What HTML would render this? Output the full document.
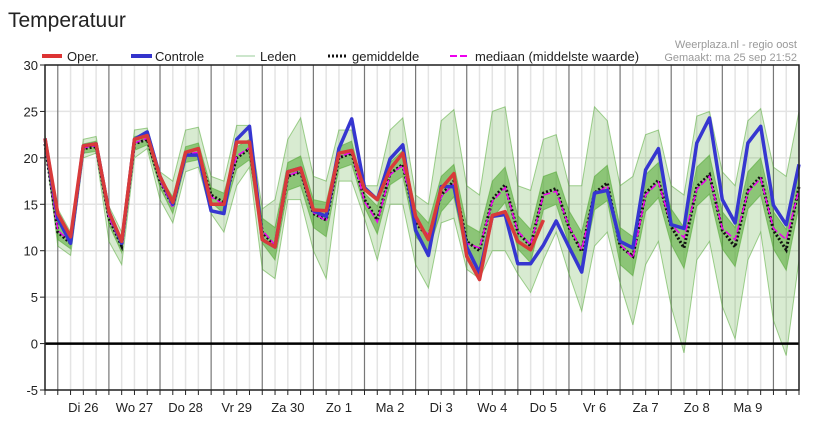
<!DOCTYPE html>
<html><head><meta charset="utf-8"><style>
body{margin:0;background:#fff;font-family:"Liberation Sans",sans-serif;}
svg text{font-family:"Liberation Sans",sans-serif;}
</style></head><body>
<svg id="chart" width="828" height="429" xmlns="http://www.w3.org/2000/svg">
<text x="8" y="27" font-size="21" fill="#222">Temperatuur</text>
<g id="legend">
 <g><line x1="42" y1="56" x2="62" y2="56" stroke="#d33" stroke-width="4"/><text x="67" y="61" font-size="13" fill="#222">Oper.</text></g>
 <g><line x1="131" y1="56" x2="152" y2="56" stroke="#33c" stroke-width="4"/><text x="155" y="61" font-size="13" fill="#222">Controle</text></g>
 <g><line x1="236" y1="56" x2="255" y2="56" stroke="#9c9" stroke-width="1"/><text x="260" y="61" font-size="13" fill="#222">Leden</text></g>
 <g><line x1="328" y1="56" x2="346" y2="56" stroke="#111" stroke-width="3" stroke-dasharray="2,2"/><text x="352" y="61" font-size="13" fill="#222">gemiddelde</text></g>
 <g><line x1="450" y1="56" x2="470" y2="56" stroke="#e0e" stroke-width="2" stroke-dasharray="7,3"/><text x="475" y="61" font-size="13" fill="#222">mediaan (middelste waarde)</text></g>
</g>
<text x="797" y="48" font-size="11" fill="#999" text-anchor="end">Weerplaza.nl - regio oost</text>
<text x="797" y="61" font-size="11" fill="#999" text-anchor="end">Gemaakt: ma 25 sep 21:52</text>
<g id="grid"></g>
<g id="members"></g>
<g id="series"></g>
<g id="axes"></g>
</svg>
<script>
const yTicks=[-5,0,5,10,15,20,25,30];
const dayLabels=["Di 26","Wo 27","Do 28","Vr 29","Za 30","Zo 1","Ma 2","Di 3","Wo 4","Do 5","Vr 6","Za 7","Zo 8","Ma 9"];
const oper=[22.1,14,11.5,21.3,21.5,14.2,11,22,22.4,18,15.2,20.6,21,15,15,21.7,21.7,11.2,10.4,18.5,18.9,14.4,14.3,20.5,20.8,16.6,15.5,18.8,20.5,13.7,11.2,16.7,18.3,9.4,6.9,13.8,14.2,11,10.1,13.3];
const controle=[22.1,13.5,10.8,21.3,21.5,14.2,10.8,22,22.8,18,15,20.3,20.3,14.3,14,22,23.4,11.2,10.4,18.5,18.9,14.3,13.7,21,24.2,16.8,15.5,19.9,21.4,12.2,9.5,16.9,16.9,10.4,7.6,13.7,13.9,8.6,8.6,10.6,13.2,10.4,7.7,16.2,16.5,11,10.3,18.7,21,12.8,12.4,21.6,24.3,15.5,13,21.6,23.4,14.9,12.8,19.3];
const gemiddelde=[21.5,12,10.8,21,21.2,13.5,10.5,21.5,22,17.5,14.8,20.3,20.5,16,15.2,20,21,12,10.5,18,18.5,14,13.3,20,20.5,15.5,13.3,18.3,19.3,13,11.5,16,17.5,11,10,15.5,17.1,12,10.5,16.2,16.7,12.5,9.9,16.2,17.3,10.5,9.4,16.2,17.6,12.6,10.3,16.9,18.2,12.2,10.4,16.5,18,12.2,10.1,16.9];
const mediaan=[21.6,12.2,10.9,21.1,21.3,13.6,10.6,21.6,22.1,17.6,14.6,20.4,20.6,15.8,15,20.2,21.1,12.2,10.6,18.1,18.6,14.1,13.2,20.1,20.6,15.3,13.1,18.2,19.2,13.2,11.7,15.8,17.2,10.8,10.3,15.3,16.8,12.1,10.6,16,16.4,12.6,10.1,16,17,10.7,9.2,16,17.4,12.8,11.4,16.6,18,12.4,11.2,16.3,17.8,12.4,11.2,16.6];
const ledenMax=[22.5,14.5,12,22,22.3,14.8,12,23,23.2,18.5,17.5,23,23.3,18,17.5,23.5,23.5,14.5,15.5,22,24.3,18,17.5,23,23,17,17,23,24.3,16,15,24,25.2,17,16,25,25.5,17,16.5,22,22.5,17,17,25.5,24,17,18,22.5,23,17,16,24.5,25,18.5,17,24,25.3,19,18,25];
const ledenMin=[21.5,10.5,9.5,20,20.5,11,8.5,20,21,15.5,13,18.5,19,14,12,17,19,8,7,15.5,15.5,10,7,17.5,17.5,13.5,9,15,15,8.5,6,13,13.5,8,7,10,10,7.5,5.5,9,12,7.5,3.5,10.5,12,6.5,2,8.5,11,4,-1,9,11,4,0.5,9,12,2.5,-1.3,9];
const ledenP75=[22.2,13,11.3,21.5,21.8,14,11.2,22.3,22.6,18,15.8,21.2,21.6,16.8,16.2,21.2,22,13.5,12.5,19.5,20.2,15.5,15.2,21.2,21.8,16.2,14.8,19.5,20.8,14.5,13,18,19.3,12.8,12,17.5,19,13.8,12.3,18,18.5,14.3,12,18,19.2,12.5,11.5,18.2,19.5,14.5,12.5,19,20.3,14.2,12.5,18.5,20,14.2,12.3,19];
const ledenP25=[21,11.2,10.2,20.5,20.7,12.8,9.8,20.8,21.4,16.8,14,19.5,19.8,15.2,14,18.8,19.8,10.8,9,16.5,17,12.5,11.5,18.8,19.3,14.7,11.8,17.1,18,11.5,10,14.2,15.8,9.2,8,13.5,15.2,10.2,8.7,14.4,15,10.7,7.8,14.4,15.4,8.5,7.3,14.2,15.7,10.7,8.1,14.8,16.1,10.2,8.3,14.5,16,10.2,7.9,14.8];

const NS="http://www.w3.org/2000/svg";
const X0=45,X1=799,Y0=65,Y1=390,STEPS=59,YMIN=-5,YMAX=30;
const xs=i=>X0+(X1-X0)*i/STEPS;
const ys=v=>Y1-(v-YMIN)*(Y1-Y0)/(YMAX-YMIN);
function mk(tag,attrs,parent){const e=document.createElementNS(NS,tag);for(const k in attrs)e.setAttribute(k,attrs[k]);parent.appendChild(e);return e;}
const grid=document.getElementById('grid'),axes=document.getElementById('axes'),mem=document.getElementById('members'),ser=document.getElementById('series');
yTicks.forEach(t=>{const l=mk('line',{x1:X0,x2:X1,y1:ys(t),y2:ys(t),stroke:'#e4e4e4','stroke-width':1.5},grid);


const tx=mk('text',{x:38,y:ys(t)+5,'font-size':13,fill:'#222','text-anchor':'end'},axes);tx.textContent=t;


mk('line',{x1:X0-5,x2:X0,y1:ys(t),y2:ys(t),stroke:'#222'},axes);});
for(let i=0;i<=STEPS;i++){const day=(i%4)===1;const l=mk('line',{x1:xs(i),x2:xs(i),y1:Y0,y2:Y1,stroke:day?'#777':'#e4e4e4','stroke-width':day?1.2:1.5},grid);


mk('line',{x1:xs(i),x2:xs(i),y1:Y1,y2:Y1+5,stroke:'#222'},axes);}
dayLabels.forEach((d,k)=>{const tx=mk('text',{x:xs(3+4*k),y:412,'font-size':13,fill:'#222','text-anchor':'middle'},axes);tx.textContent=d;

});
const pts=a=>a.map((v,i)=>xs(i).toFixed(1)+','+ys(v).toFixed(1)).join(' ');
const band=(lo,hi,op)=>{const p=mk('polygon',{points:pts(hi)+' '+lo.map((v,i)=>[xs(i),ys(v)]).reverse().map(q=>q[0].toFixed(1)+','+q[1].toFixed(1)).join(' '),fill:'#4ea52e','fill-opacity':op},mem);return p;};
const b1=band(ledenMin,ledenMax,0.22);


const b2=band(ledenP25,ledenP75,0.55);


[ledenMin,ledenMax,ledenP25,ledenP75].forEach(a=>{const l=mk('polyline',{points:pts(a),fill:'none',stroke:'#4aa52a','stroke-opacity':0.5,'stroke-width':1},mem);

});
const z=mk('line',{x1:X0,x2:X1,y1:ys(0),y2:ys(0),stroke:'#000','stroke-width':2.5},axes);


mk('rect',{x:X0,y:Y0,width:X1-X0,height:Y1-Y0,fill:'none',stroke:'#222','stroke-width':1.5},axes);
const s1=mk('polyline',{points:pts(gemiddelde),fill:'none',stroke:'#111','stroke-width':3,'stroke-dasharray':'2,2'},ser);


const s2=mk('polyline',{points:pts(mediaan),fill:'none',stroke:'#e0e','stroke-width':1.5,'stroke-dasharray':'7,3'},ser);


const s3=mk('polyline',{points:pts(controle),fill:'none',stroke:'#3636d0','stroke-width':3.5,'stroke-linejoin':'round'},ser);


const s4=mk('polyline',{points:pts(oper),fill:'none',stroke:'#d83a3a','stroke-width':3.5,'stroke-linejoin':'round'},ser);


</script>
</body></html>
